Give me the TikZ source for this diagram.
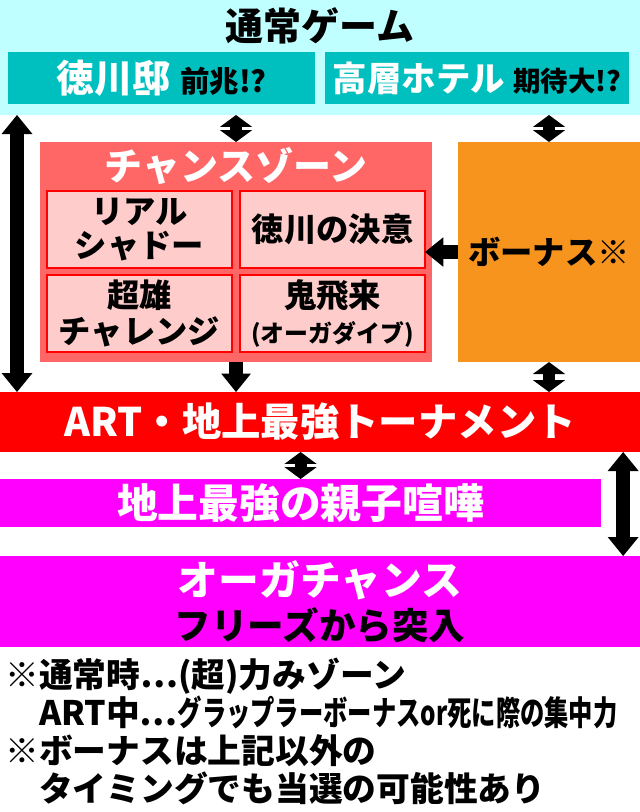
\documentclass[tikz,border=0pt]{standalone}
\usepackage{fontspec}
\usepackage{graphicx}
\setmainfont{Noto Sans CJK JP}
\usetikzlibrary{arrows.meta}

\definecolor{paleCyan}{HTML}{C0FFFF}
\definecolor{tealBox}{HTML}{00BFBF}
\definecolor{salmon}{HTML}{FF6666}
\definecolor{pinkBox}{HTML}{FFCCCC}
\definecolor{bonusOrange}{HTML}{F7941E}
\definecolor{artRed}{HTML}{FF0000}
\definecolor{ogreMagenta}{HTML}{FF00FF}

\newcommand{\fsz}[1]{\fontsize{#1}{#1}\selectfont}

\begin{document}
\begin{tikzpicture}[x=0.025cm, y=-0.025cm, font=\bfseries,
  panel/.style={anchor=north west, inner sep=0pt, outer sep=0pt},
  cell/.style={panel, fill=pinkBox, draw=artRed, line width=1.6pt,
    minimum width=4.625cm, minimum height=1.925cm, align=center},
  dbl/.style={line width=8.5pt,
    {Triangle[width=23pt,length=8.5pt,line width=0pt]}-{Triangle[width=23pt,length=8.5pt,line width=0pt]}},
  bigdbl/.style={line width=10pt,
    {Triangle[width=22pt,length=13.5pt,line width=0pt]}-{Triangle[width=22pt,length=13.5pt,line width=0pt]}},
  onearr/.style={line width=10pt, -{Triangle[width=21pt,length=13pt,line width=0pt]}}]
  \useasboundingbox (0,0) rectangle (640,812);

  % normal game
  \node (normal) [panel, fill=paleCyan, minimum width=16cm, minimum height=2.875cm] at (0,0) {};
  \node (title) at (320,26) {\fsz{27}通常ゲーム};
  \node (mansion) [panel, fill=tealBox, minimum width=7.675cm, minimum height=1.3cm] at (8,52)
    {{\fsz{27}\color{white}徳川邸}\hspace{7pt}{\fsz{21}前兆!?}};
  \node (hotel) [panel, fill=tealBox, minimum width=7.6cm, minimum height=1.3cm] at (325,52)
    {{\fsz{24.5}\color{white}高層ホテル}\hspace{6pt}{\fsz{19.5}期待大!?}};

  % chance zone
  \node (chance) [panel, fill=salmon, minimum width=9.8cm, minimum height=5.5cm] at (40,142) {};
  \node (czname) at (236,166) {\fsz{27}\color{white}チャンスゾーン};
  \node (shadow) [cell, font=\bfseries\fontsize{23}{24.5}\selectfont] at (47,191) {リアル\\シャドー};
  \node (ketsui) [cell, font=\bfseries\fsz{23}] at (240,191) {徳川の決意};
  \node (yuujirou) [cell, font=\bfseries\fontsize{23}{25.5}\selectfont] at (47,275) {超雄\\チャレンジ};
  \node (oniarrive) [cell, font=\bfseries\fontsize{23}{25.5}\selectfont] at (240,275)
    {鬼飛来\\{\fsz{17}(オーガダイブ)}};

  % bonus
  \node (bonus) [panel, fill=bonusOrange, minimum width=4.55cm, minimum height=5.5cm] at (458,142)
    {\fsz{23}ボーナス※};

  % ART and below
  \node (art) [panel, fill=artRed, minimum width=16cm, minimum height=1.5cm] at (0,392)
    {\fsz{28}\color{white}ART・地上最強トーナメント};
  \node (oyako) [panel, fill=ogreMagenta, minimum width=15.025cm, minimum height=1.2cm] at (0,479)
    {\fsz{29}\color{white}地上最強の親子喧嘩};
  \node (ogre) [panel, fill=ogreMagenta, minimum width=16cm, minimum height=2.275cm, align=center,
    font=\bfseries\fontsize{29}{31}\selectfont] at (0,556)
    {\textcolor{white}{オーガチャンス}\\{\fsz{26}フリーズから突入}};

  \node (notes) [anchor=north west, inner sep=0pt, align=left,
    font=\bfseries\fontsize{24}{27}\selectfont] at (5,658)
    {※通常時…(超)力みゾーン\\
     \phantom{※}ART中…\scalebox{0.72}[1]{グラップラーボーナスor死に際の集中力}\\
     ※ボーナスは上記以外の\\
     \phantom{※}タイミングでも当選の可能性あり};

  % arrows
  \draw[bigdbl] ([xshift=4.25mm]normal.south west) -- ([xshift=4.25mm]art.north west);
  \draw[dbl] (chance.north) -- (chance.north |- normal.south);
  \draw[dbl] (bonus.north) -- (bonus.north |- normal.south);
  \draw[onearr] (bonus.west) -- (bonus.west -| ketsui.east);
  \draw[onearr] (chance.south) -- (chance.south |- art.north);
  \draw[dbl] (bonus.south) -- (bonus.south |- art.north);
  \draw[dbl] (art.south -| oyako.north) -- (oyako.north);
  \draw[bigdbl] ([xshift=-4.25mm]art.south east) -- ([xshift=-4.25mm]ogre.north east);
\end{tikzpicture}
\end{document}
